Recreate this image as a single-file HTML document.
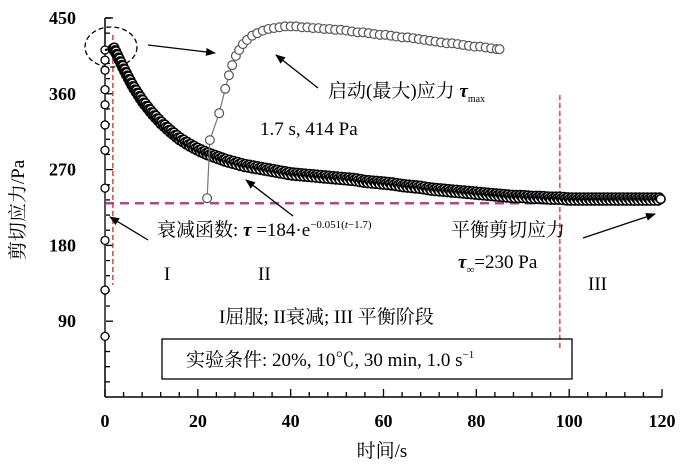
<!DOCTYPE html>
<html><head><meta charset="utf-8"><style>
body{margin:0;background:#fff}
svg{display:block}
text{font-family:"Liberation Serif","Noto Serif CJK SC",serif;fill:#000}
.t{font-size:18px;font-weight:bold}
.c{font-size:19px}
</style></head><body>
<svg id="chart" width="700" height="464">
<g id="axes"></g>
<g id="marks"></g>
<g id="ann">
<ellipse cx="111" cy="47" rx="26" ry="20" fill="none" stroke="#000" stroke-width="1.3" stroke-dasharray="5,3"/>
<text x="328" y="97" class="c">启动(最大)应力 <tspan font-style="italic" font-weight="bold">τ</tspan><tspan font-size="10" dy="5">max</tspan></text>
<text x="260" y="135" class="c">1.7 s, 414 Pa</text>
<text x="157" y="236" class="c">衰减函数: <tspan font-style="italic" font-weight="bold">τ</tspan> =184·e<tspan font-size="11" dy="-8">−0.051(<tspan font-style="italic">t</tspan>−1.7)</tspan></text>
<text x="451" y="236" class="c">平衡剪切应力</text>
<text x="458" y="268" class="c"><tspan font-style="italic" font-weight="bold">τ</tspan><tspan font-size="11" dy="5">∞</tspan><tspan dy="-5">=230 Pa</tspan></text>
<text x="164" y="280" class="c">I</text>
<text x="258" y="280" class="c">II</text>
<text x="588" y="290" class="c">III</text>
<text x="219" y="323" class="c">I屈服; II衰减; III 平衡阶段</text>
<rect x="162" y="339" width="410" height="40" fill="none" stroke="#000" stroke-width="1.3"/>
<text x="186" y="366" class="c">实验条件: 20%, 10℃, 30 min, 1.0 s<tspan font-size="11" dy="-8">−1</tspan></text>
<text x="382" y="457" class="c" text-anchor="middle">时间/s</text>
<text transform="translate(24,210) rotate(-90)" class="c" text-anchor="middle">剪切应力/Pa</text>
</g>
</svg>
<script>
const xTicks=[0,20,40,60,80,100,120];
const yTicks=[90,180,270,360,450];
const decayT=[1.7,2,4,6,8,10,12,14,16,18,20,22,24,26,28,30,32,34,36,38,40,42,44,46,48,50,52,54,56,58,60,62,64,66,68,70,72,74,76,78,80,82,84,86,88,90,92,94,96,98,100,102,104,106,108,110,112,114,116,118,120];
const decayV=[414,413,390,369,352,338,326,316,307,300,294,289,285,281,278,275,273,271,269,267,265,264,263,262,261,260,259,258,256,255,254,253,251,250,249,247,246,245,244,243,242,241,240,239,238,238,237,237,236,236,235,235,235,235,235,235,235,235,235,235,235];
const riseV=[72,127,186,248,293,323,347,365,388,400,412];
const insetT=[22,22.6,24.6,25.9,26.7,27.4,28.2,28.9,29.7,30.6,31.7,32.8,34,35.2,36.4,37.6,38.8,40,41.2,42.4,43.6,44.8,46,47.2,48.4,49.6,50.8,52,53.2,54.4,55.6,56.8,58,59.2,60.4,61.6,62.8,64,65.2,66.4,67.6,68.8,70,71.2,72.4,73.6,74.8,76,77.2,78.4,79.6,80.8,82,83.2,84.4,85];
const insetV=[236,305,337,366,382,394,405,412,419,424,429,432,435,437,438,439,440,440,440,439,439,438,438,437,437,436,436,435,434,433,433,432,431,430,430,429,428,427,427,426,425,424,423,422,421,420,420,419,418,417,416,416,415,414,413,413];
const eqV=230, peakT=1.7, eqT=98;
const X0=105,X1=662,Y0=397,Y1=18;
const sx=t=>X0+(t/120)*(X1-X0);
const sy=v=>Y0-(v/450)*(Y0-Y1);
const NS="http://www.w3.org/2000/svg";
function mk(tag,attrs,parent){const e=document.createElementNS(NS,tag);for(const k in attrs)e.setAttribute(k,attrs[k]);parent.appendChild(e);return e;}
const ax=document.getElementById('axes'), mg=document.getElementById('marks'), an=document.getElementById('ann');
let e=mk('line',{x1:X0,y1:Y0,x2:X1,y2:Y0,stroke:'#000','stroke-width':1.5},ax);

e=mk('line',{x1:X0,y1:Y0,x2:X0,y2:Y1,stroke:'#000','stroke-width':1.5},ax);

mk('line',{x1:X0,y1:Y1,x2:X0+6,y2:Y1,stroke:'#000','stroke-width':1.5},ax);
for(let t=0;t<=120;t+=4){const maj=t%20===0;mk('line',{x1:sx(t),y1:Y0,x2:sx(t),y2:Y0-(maj?8:5),stroke:'#000','stroke-width':1.3},ax);}
for(let v=18;v<=450;v+=18){const maj=v%90===0;mk('line',{x1:X0,y1:sy(v),x2:X0+(maj?8:5),y2:sy(v),stroke:'#000','stroke-width':1.3},ax);}
xTicks.forEach(t=>{const l=mk('text',{x:sx(t),y:Y0+30,'text-anchor':'middle',class:'t'},ax);l.textContent=t;
});
yTicks.forEach(v=>{const l=mk('text',{x:X0-29,y:sy(v)+6,'text-anchor':'end',class:'t'},ax);l.textContent=v;
});
e=mk('line',{x1:X0,y1:sy(eqV),x2:X1,y2:sy(eqV),stroke:'#b0449a','stroke-width':2.5,'stroke-dasharray':'9,6'},mg);

e=mk('line',{x1:sx(peakT),y1:35,x2:sx(peakT),y2:285,stroke:'#e52020','stroke-width':1.3,'stroke-dasharray':'5,3'},mg);

e=mk('line',{x1:sx(eqT),y1:95,x2:sx(eqT),y2:350,stroke:'#e52020','stroke-width':1.3,'stroke-dasharray':'5,3'},mg);

mk('line',{x1:sx(0),y1:sy(riseV[0]),x2:sx(0),y2:sy(riseV[riseV.length-1]),stroke:'#555','stroke-width':2},mg);
riseV.forEach(v=>{const c=mk('circle',{cx:sx(0),cy:sy(v),r:4,fill:'#fff',stroke:'#000','stroke-width':1.3},mg);
});
mk('line',{x1:sx(0),y1:sy(riseV[riseV.length-1]),x2:sx(peakT),y2:sy(decayV[0]),stroke:'#000','stroke-width':2},mg);
let idx=0;
for(let i=0;i<decayT.length-1;i++){
 const a=[sx(decayT[i]),sy(decayV[i])],b=[sx(decayT[i+1]),sy(decayV[i+1])];
 const n=Math.max(2,Math.ceil(Math.hypot(b[0]-a[0],b[1]-a[1])/1.4));
 for(let k=0;k<n;k++){const f=k/n;idx++;const off=(idx%3-1)*1.6;
  const c=mk('circle',{cx:a[0]+(b[0]-a[0])*f,cy:a[1]+(b[1]-a[1])*f+off,r:4.4,fill:'#fff',stroke:'#000','stroke-width':1.6},mg);
  }
}
e=mk('polyline',{points:insetT.map((t,i)=>sx(t)+','+sy(insetV[i])).join(' '),fill:'none',stroke:'#777','stroke-width':1.2},mg);

insetT.forEach((t,i)=>{const c=mk('circle',{cx:sx(t),cy:sy(insetV[i]),r:4.4,fill:'#fff',stroke:'#555','stroke-width':1.2},mg);
});
const defs=mk('defs',{},document.getElementById('chart'));
const m=mk('marker',{id:'ah',markerWidth:10,markerHeight:8,refX:9,refY:4,orient:'auto',markerUnits:'userSpaceOnUse'},defs);
mk('path',{d:'M0,0 L10,4 L0,8 Z',fill:'#000'},m);
[[148,45,215,53],[318,88,276,55],[293,216,246,180],[148,240,110,217],[583,238,655,214]].forEach(p=>{
 const l=mk('line',{x1:p[0],y1:p[1],x2:p[2],y2:p[3],stroke:'#000','stroke-width':1.3,'marker-end':'url(#ah)'},an);
 });
</script>
</body></html>
